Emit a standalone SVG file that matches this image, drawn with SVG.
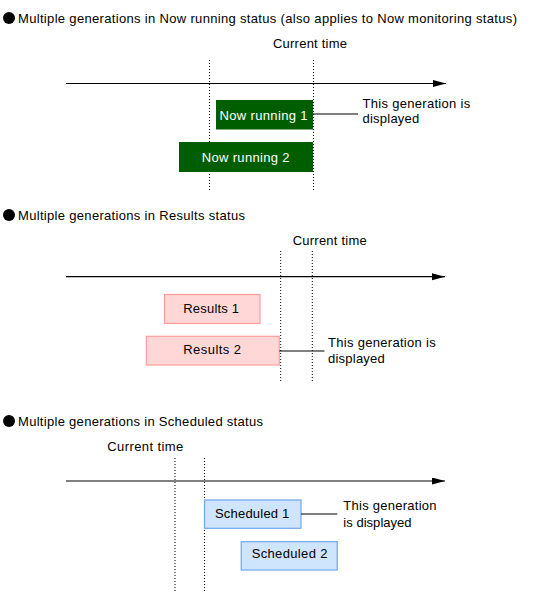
<svg xmlns="http://www.w3.org/2000/svg" width="550" height="592" viewBox="0 0 550 592">
<style>
text { font-family: "Liberation Sans", Arial, sans-serif; font-size: 13px; fill: #000; }
.w { fill: #ffffff; }
.axis { stroke: #000; stroke-width: 1.2; fill: none; }
.dot { stroke: #000; stroke-width: 1; stroke-dasharray: 1 2; fill: none; }
.lead { stroke: #000; stroke-width: 1.2; fill: none; }
.run { fill: #005e00; stroke: none; }
.res { fill: #ffd7d7; stroke: #ff9d9d; stroke-width: 1.2; }
.sch { fill: #cfe4fd; stroke: #6ea8ea; stroke-width: 1.2; }
</style>
<defs>
<marker id="ah" markerUnits="userSpaceOnUse" markerWidth="14" markerHeight="8" refX="13" refY="3.5" orient="auto">
<path d="M0,0 L13,3.5 L0,7 Z" fill="#000"/>
</marker>
</defs>

<g id="section1">
<circle cx="9" cy="18" r="6" fill="#000"/>
<text x="18" y="23" textLength="499" lengthAdjust="spacing">Multiple generations in Now running status (also applies to Now monitoring status)</text>
<text x="273" y="47.5" textLength="74" lengthAdjust="spacing">Current time</text>
<line class="axis" x1="66" y1="83.5" x2="446" y2="83.5" marker-end="url(#ah)"/>
<line class="dot" x1="209.5" y1="60" x2="209.5" y2="191"/>
<line class="dot" x1="313.5" y1="60" x2="313.5" y2="191"/>
</g>
<g id="now-running-1">
<rect class="run" x="216" y="100" width="97" height="29.5"/>
<text class="w" x="219.5" y="119.5" textLength="88" lengthAdjust="spacing">Now running 1</text>
</g>
<g id="now-running-2">
<rect class="run" x="179" y="142" width="134" height="30"/>
<text class="w" x="201.8" y="161.5" textLength="87.7" lengthAdjust="spacing">Now running 2</text>
</g>
<g id="note1">
<text x="362.5" y="108" textLength="107.7" lengthAdjust="spacing">This generation is</text>
<text x="362.5" y="123" textLength="56.8" lengthAdjust="spacing">displayed</text>
</g>

<g id="section2">
<circle cx="9" cy="215" r="6" fill="#000"/>
<text x="18" y="220" textLength="227" lengthAdjust="spacing">Multiple generations in Results status</text>
<text x="292.7" y="245" textLength="74" lengthAdjust="spacing">Current time</text>
<line class="axis" x1="66" y1="276.7" x2="445" y2="276.7" marker-end="url(#ah)"/>
<line class="dot" x1="280.7" y1="251" x2="280.7" y2="381"/>
<line class="dot" x1="312.3" y1="251" x2="312.3" y2="381"/>
</g>
<g id="results-1">
<rect class="res" x="164.5" y="294.5" width="95.5" height="29"/>
<text x="183.3" y="312.7" textLength="55.7" lengthAdjust="spacing">Results 1</text>
</g>
<g id="results-2">
<rect class="res" x="146.3" y="336.3" width="133" height="28.7"/>
<text x="183.3" y="354" textLength="57.7" lengthAdjust="spacing">Results 2</text>
</g>
<g id="note2">
<text x="328" y="347" textLength="107.7" lengthAdjust="spacing">This generation is</text>
<text x="328" y="363" textLength="56.8" lengthAdjust="spacing">displayed</text>
</g>

<g id="section3">
<circle cx="9" cy="421" r="6" fill="#000"/>
<text x="18" y="426" textLength="245" lengthAdjust="spacing">Multiple generations in Scheduled status</text>
<text x="107.3" y="450.7" textLength="76" lengthAdjust="spacing">Current time</text>
<line class="axis" x1="66" y1="481" x2="445" y2="481" marker-end="url(#ah)"/>
<line class="dot" x1="175" y1="458" x2="175" y2="592"/>
<line class="dot" x1="204.5" y1="458" x2="204.5" y2="592"/>
</g>
<g id="scheduled-1">
<rect class="sch" x="204.5" y="500" width="96.5" height="28.3"/>
<text x="215" y="517.7" textLength="74.3" lengthAdjust="spacing">Scheduled 1</text>
</g>
<g id="scheduled-2">
<rect class="sch" x="241.2" y="541.7" width="96" height="28.3"/>
<text x="251.7" y="558.3" textLength="75.7" lengthAdjust="spacing">Scheduled 2</text>
</g>
<g id="note3">
<text x="343.3" y="510" textLength="93.3" lengthAdjust="spacing">This generation</text>
<text x="343.3" y="526.7" textLength="68.3" lengthAdjust="spacing">is displayed</text>
</g>

<g id="connectors">
<line class="lead" x1="313" y1="114" x2="358" y2="114"/>
<line class="lead" x1="279.3" y1="351" x2="324.5" y2="351"/>
<line class="lead" x1="301" y1="514" x2="337.3" y2="514"/>
</g>
</svg>
